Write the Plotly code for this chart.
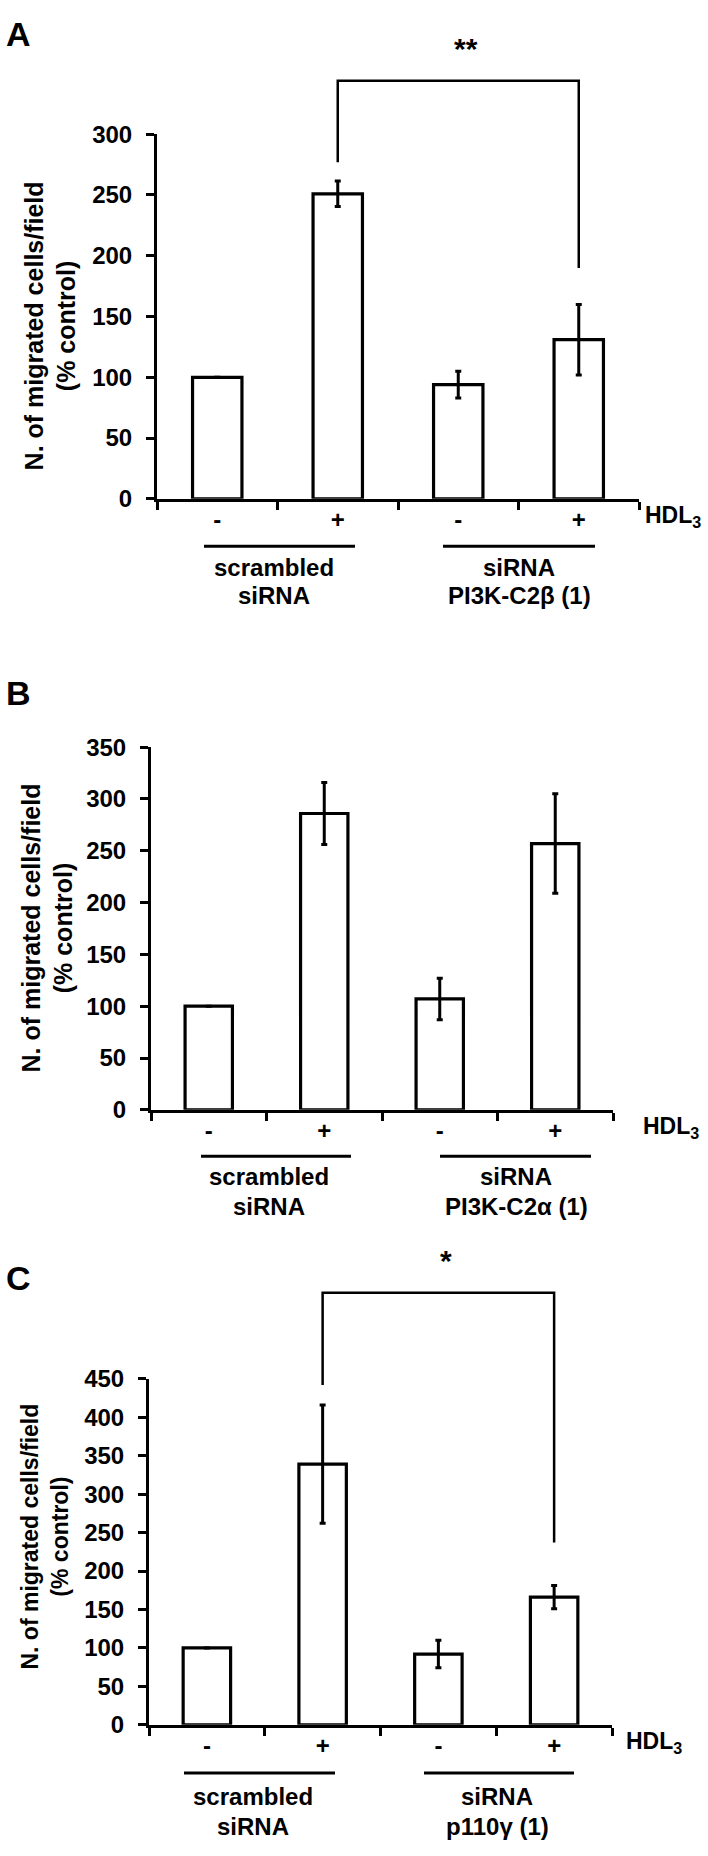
import plotly.graph_objects as go

W, H = 708, 1856

categories = ["scrambled -", "scrambled +", "siRNA -", "siRNA +"]
tick_text = ["-", "+", "-", "+"]

# panel A: siRNA PI3K-C2beta
vals_a = [100, 251, 94, 131]
err_a = [None, 10.5, 11, 29]
# panel B: siRNA PI3K-C2alpha
vals_b = [100, 286, 107, 257]
err_b = [None, 30, 20, 48]
# panel C: siRNA p110gamma
vals_c = [100, 339, 92, 166]
err_c = [None, 77, 18, 15]

ymax = [300, 350, 450]
groups = [
    (["scrambled", "siRNA"], ["siRNA", "PI3K-C2\u03b2 (1)"]),
    (["scrambled", "siRNA"], ["siRNA", "PI3K-C2\u03b1 (1)"]),
    (["scrambled", "siRNA"], ["siRNA", "p110\u03b3 (1)"]),
]
letters = ["A", "B", "C"]
# significance brackets: (label, left bar, right bar, top value, left end, right end)
brackets = {0: ("**", 1, 3, 344, 277, 190), 2: ("*", 1, 3, 562, 442, 237)}

FONT = "Liberation Sans, Arial, sans-serif"


def px(x):
    return x / W


def py(y):
    return 1 - y / H


# plot areas in pixels: left, right, top, bottom
boxes = [(157, 639, 122, 492), (151, 613, 744, 1112), (149, 612, 1385, 1736)]

fig = go.Figure()
shapes = []
annos = []

for k, (vals, errs) in enumerate([(vals_a, err_a), (vals_b, err_b), (vals_c, err_c)]):
    l, r, t, b = boxes[k]
    xa = "x" if k == 0 else "x%d" % (k + 1)
    ya = "y" if k == 0 else "y%d" % (k + 1)
    fig.add_trace(go.Bar(
        x=categories, y=vals, xaxis=xa, yaxis=ya, width=0.41,
        marker=dict(color="white", line=dict(color="black", width=3.2)),
        error_y=dict(type="data", array=errs, visible=True, color="black",
                     thickness=3, width=3),
        showlegend=False,
    ))
    xkey = "xaxis" if k == 0 else "xaxis%d" % (k + 1)
    ykey = "yaxis" if k == 0 else "yaxis%d" % (k + 1)
    fig.layout[xkey] = dict(
        domain=[px(l), px(r)], anchor=ya, type="category",
        categoryorder="array", categoryarray=categories, range=[-0.5, 3.5],
        tickmode="array", tickvals=categories, ticktext=tick_text,
        showline=True, linecolor="black", linewidth=3,
        ticks="outside", tickson="boundaries", ticklen=8, tickwidth=3, tickcolor="black",
        ticklabelstandoff=-3,
        tickfont=dict(family=FONT, size=24, color="black", weight="bold"),
        showgrid=False, zeroline=False, fixedrange=True,
    )
    fig.layout[ykey] = dict(
        domain=[py(b), py(t)], anchor=xa, range=[0, ymax[k]], dtick=50,
        showline=True, linecolor="black", linewidth=3,
        ticks="outside", ticklen=8, tickwidth=3, tickcolor="black",
        ticklabelstandoff=9,
        tickfont=dict(family=FONT, size=24, color="black", weight="bold"),
        showgrid=False, zeroline=False, fixedrange=True,
    )

    # HDL3 label at the end of x axis
    annos.append(dict(x=px([703, 701, 684][k]), y=py(b + 18), xref="paper", yref="paper",
                      text="HDL<sub>3</sub>", showarrow=False, xanchor="right", yanchor="middle",
                      font=dict(family=FONT, size=23, color="black", weight="bold")))

    # panel letter
    annos.append(dict(x=px(4), y=py([20, 689, 1283][k]), xref="paper", yref="paper",
                      text=letters[k], showarrow=False, xanchor="left", yanchor="middle",
                      font=dict(family=FONT, size=34, color="black", weight="bold")))

    # y axis title
    tsize = [25, 25, 23][k]
    annos.append(dict(x=px([50, 47, 45][k]), y=py([317, 928, 1545][k]), xref="paper", yref="paper",
                      text="N. of migrated cells/field<br>(% control)", textangle=-90,
                      showarrow=False, xanchor="center", yanchor="middle",
                      font=dict(family=FONT, size=tsize, color="black", weight="bold")))

    # group underlines and labels
    line_y = [540, 1159, 1785][k]
    seg = [[(204, 355), (443, 595)], [(201, 351), (440, 591)], [(184, 335), (424, 574)]][k]
    label_x = [[274, 519], [269, 516], [253, 497]][k]
    row_y = [[562, 590], [1180, 1210], [1809, 1839]][k]
    for g in range(2):
        shapes.append(dict(type="line", xref="paper", yref="paper",
                           x0=px(seg[g][0]), x1=px(seg[g][1]), y0=py(line_y), y1=py(line_y),
                           line=dict(color="black", width=3)))
        for j in range(2):
            annos.append(dict(x=px(label_x[g]), y=py(row_y[j]), xref="paper", yref="paper",
                              text=groups[k][g][j], showarrow=False, xanchor="center", yanchor="middle",
                              font=dict(family=FONT, size=24, color="black", weight="bold")))

    # significance bracket
    if k in brackets:
        lab, i0, i1, top, e0, e1 = brackets[k]
        cw = (r - l) / 4.0

        def cx(i):
            return px(l + (i + 0.5) * cw)

        def vy(v):
            return py(b - v / ymax[k] * (b - t))

        path = "M %f,%f L %f,%f L %f,%f L %f,%f" % (cx(i0), vy(e0), cx(i0), vy(top),
                                                    cx(i1), vy(top), cx(i1), vy(e1))
        shapes.append(dict(type="path", xref="paper", yref="paper", path=path,
                           line=dict(color="black", width=2.5)))
        annos.append(dict(x=(cx(i0) + cx(i1)) / 2, xshift=8, y=vy(top), yshift=14,
                          xref="paper", yref="paper", text=lab, showarrow=False,
                          xanchor="center", yanchor="bottom",
                          font=dict(family=FONT, size=30, color="black", weight="bold")))

fig.update_layout(
    width=W, height=H, autosize=False,
    margin=dict(l=0, r=0, t=0, b=0),
    paper_bgcolor="white", plot_bgcolor="white",
    shapes=shapes, annotations=annos,
)

# page body has a default 8px margin; drop it so the figure fills the window
fig.write_html("out.html", config={"displayModeBar": False},
               post_script="document.body.style.margin='0px';")
